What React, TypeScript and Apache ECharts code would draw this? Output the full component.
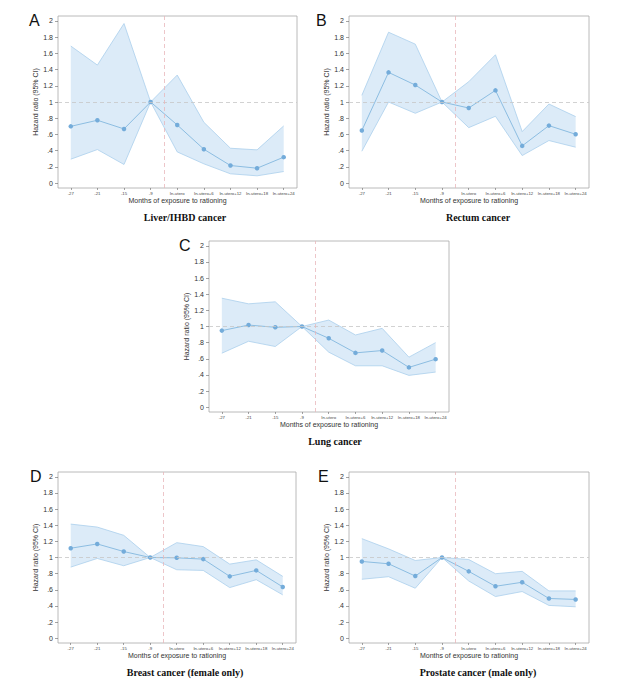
import React, { useEffect, useRef } from 'react';
import * as echarts from 'echarts';

const CATEGORIES = ['-27', '-21', '-15', '-9', 'In-utero', 'In-utero+6', 'In-utero+12', 'In-utero+18', 'In-utero+24'];
const Y_TICKS = [0, 0.2, 0.4, 0.6, 0.8, 1, 1.2, 1.4, 1.6, 1.8, 2];
const X_TICKS = [0, 1, 2, 3, 4, 5, 6, 7, 8];

const LIVER_HR = [0.70, 0.775, 0.668, 1, 0.717, 0.418, 0.217, 0.184, 0.32];
const LIVER_LO = [0.295, 0.414, 0.23, 1, 0.385, 0.238, 0.115, 0.09, 0.143];
const LIVER_HI = [1.69, 1.455, 1.967, 1, 1.332, 0.75, 0.43, 0.41, 0.705];

const RECTUM_HR = [0.648, 1.365, 1.209, 1, 0.926, 1.143, 0.459, 0.709, 0.602];
const RECTUM_LO = [0.393, 1.0, 0.861, 1, 0.684, 0.824, 0.34, 0.525, 0.443];
const RECTUM_HI = [1.082, 1.86, 1.713, 1, 1.25, 1.582, 0.635, 0.975, 0.82];

const LUNG_HR = [0.949, 1.018, 0.99, 1, 0.854, 0.673, 0.702, 0.493, 0.595];
const LUNG_LO = [0.669, 0.817, 0.752, 1, 0.682, 0.513, 0.513, 0.394, 0.435];
const LUNG_HI = [1.351, 1.281, 1.306, 1, 1.08, 0.895, 0.977, 0.62, 0.80];

const BREAST_HR = [1.115, 1.168, 1.074, 1, 0.996, 0.98, 0.766, 0.84, 0.635];
const BREAST_LO = [0.881, 0.988, 0.898, 1, 0.848, 0.84, 0.627, 0.725, 0.537];
const BREAST_HI = [1.414, 1.377, 1.275, 1, 1.184, 1.135, 0.918, 0.971, 0.766];

const PROSTATE_HR = [0.951, 0.922, 0.77, 1, 0.828, 0.643, 0.693, 0.492, 0.48];
const PROSTATE_LO = [0.73, 0.762, 0.619, 1, 0.709, 0.516, 0.578, 0.406, 0.389];
const PROSTATE_HI = [1.234, 1.107, 0.963, 1, 0.975, 0.799, 0.828, 0.586, 0.586];

const PANEL_LETTERS = ['A', 'B', 'C', 'D', 'E'];
const PANEL_TITLES = [
  'Liver/IHBD cancer',
  'Rectum cancer',
  'Lung cancer',
  'Breast cancer (female only)',
  'Prostate cancer (male only)',
];
const X_NAME = 'Months of exposure to rationing';
const Y_NAME = 'Hazard ratio (95% CI)';

const PANEL_DATA = [
  { hr: LIVER_HR, lo: LIVER_LO, hi: LIVER_HI },
  { hr: RECTUM_HR, lo: RECTUM_LO, hi: RECTUM_HI },
  { hr: LUNG_HR, lo: LUNG_LO, hi: LUNG_HI },
  { hr: BREAST_HR, lo: BREAST_LO, hi: BREAST_HI },
  { hr: PROSTATE_HR, lo: PROSTATE_LO, hi: PROSTATE_HI },
];

// layout (positions only)
const GRIDS = [
  { left: 58, top: 16, width: 239, height: 172 },
  { left: 349, top: 16, width: 240, height: 172 },
  { left: 209, top: 241, width: 240, height: 171 },
  { left: 58, top: 472, width: 238, height: 171 },
  { left: 349, top: 472, width: 240, height: 171 },
];
const LETTER_POS = [
  { x: 29, y: 28.5 },
  { x: 316, y: 28.5 },
  { x: 179, y: 253.5 },
  { x: 30, y: 484.5 },
  { x: 318, y: 484.5 },
];
const TITLE_POS = [
  { x: 185, y: 217 },
  { x: 478, y: 217 },
  { x: 335, y: 441 },
  { x: 185, y: 672 },
  { x: 478, y: 672 },
];

const SANS = '"Liberation Sans", Arial, sans-serif';
const SERIF = '"Liberation Serif", "Times New Roman", serif';

const fmtY = (v: number) => {
  if (Math.abs(v) < 1e-9) return '0';
  let s = v.toFixed(1);
  if (s.endsWith('.0')) s = s.slice(0, -2);
  if (s.startsWith('0.')) s = s.slice(1);
  return s;
};

function buildOption() {
  const grid: any[] = [];
  const xAxis: any[] = [];
  const yAxis: any[] = [];
  const series: any[] = [];
  const graphic: any[] = [];

  PANEL_DATA.forEach((p, k) => {
    grid.push({
      ...GRIDS[k],
      show: true,
      borderColor: '#a8a8a8',
      borderWidth: 0.8,
      backgroundColor: 'transparent',
      containLabel: false,
    });
    xAxis.push({
      type: 'value',
      gridIndex: k,
      position: 'bottom',
      min: -0.48,
      max: 8.5,
      axisLine: { show: false, onZero: false },
      splitLine: { show: false },
      axisTick: {
        show: true,
        customValues: X_TICKS,
        length: 2,
        lineStyle: { color: '#666', width: 0.6 },
      },
      axisLabel: {
        customValues: X_TICKS,
        formatter: (v: number) => CATEGORIES[Math.round(v)],
        fontSize: 4.3,
        color: '#444',
        margin: 3,
        fontFamily: SANS,
      },
      name: X_NAME,
      nameLocation: 'middle',
      nameGap: 9,
      nameTextStyle: { fontSize: 7, color: '#333', fontFamily: SANS },
    });
    yAxis.push({
      type: 'value',
      gridIndex: k,
      position: 'left',
      min: -0.06,
      max: 2.06,
      axisLine: { show: false, onZero: false },
      splitLine: { show: false },
      axisTick: {
        show: true,
        customValues: Y_TICKS,
        length: 3,
        lineStyle: { color: '#666', width: 0.6 },
      },
      axisLabel: {
        customValues: Y_TICKS,
        formatter: fmtY,
        fontSize: 7,
        color: '#333',
        margin: 5,
        fontFamily: SANS,
      },
      name: Y_NAME,
      nameLocation: 'middle',
      nameGap: 19,
      nameTextStyle: { fontSize: 7, color: '#333', fontFamily: SANS },
    });

    series.push({
      type: 'custom',
      coordinateSystem: 'cartesian2d',
      xAxisIndex: k,
      yAxisIndex: k,
      silent: true,
      z: 1,
      data: p.hr.map((v, i) => [i, v]),
      encode: { x: 0, y: 1 },
      renderItem: (params: any, api: any) => {
        if (params.dataIndex !== 0) return null;
        const up = p.hi.map((v, i) => api.coord([i, v]));
        const dn = p.lo.map((v, i) => api.coord([i, v]));
        return {
          type: 'group',
          children: [
            {
              type: 'polygon',
              shape: { points: [...up, ...dn.slice().reverse()] },
              style: { fill: '#dcebf8', stroke: 'none' },
            },
            {
              type: 'polyline',
              shape: { points: up },
              style: { stroke: '#abcfec', lineWidth: 0.8, fill: 'none' },
            },
            {
              type: 'polyline',
              shape: { points: dn },
              style: { stroke: '#abcfec', lineWidth: 0.8, fill: 'none' },
            },
          ],
        };
      },
    });

    series.push({
      type: 'line',
      xAxisIndex: k,
      yAxisIndex: k,
      z: 3,
      data: p.hr.map((v, i) => [i, v]),
      symbol: 'circle',
      symbolSize: 4.5,
      showSymbol: true,
      lineStyle: { color: '#8cbde1', width: 1 },
      itemStyle: { color: '#74acda' },
      markLine: {
        silent: true,
        symbol: 'none',
        label: { show: false },
        data: [
          { yAxis: 1, lineStyle: { color: '#c6c6c6', type: [4, 3], width: 0.8 } },
          { xAxis: 3.5, lineStyle: { color: '#e8b7bb', type: [4, 3], width: 0.8 } },
        ],
      },
    });

    graphic.push({
      type: 'text',
      x: LETTER_POS[k].x,
      y: LETTER_POS[k].y,
      style: {
        text: PANEL_LETTERS[k],
        font: `16px ${SANS}`,
        fill: '#111',
        textVerticalAlign: 'bottom',
        verticalAlign: 'bottom',
      },
    });
    graphic.push({
      type: 'text',
      x: TITLE_POS[k].x,
      y: TITLE_POS[k].y,
      style: {
        text: PANEL_TITLES[k],
        font: `bold 10px ${SERIF}`,
        fill: '#111',
        align: 'center',
        verticalAlign: 'middle',
      },
    });
  });

  return {
    animation: false,
    backgroundColor: '#ffffff',
    grid,
    xAxis,
    yAxis,
    series,
    graphic,
  };
}

export default function App() {
  const ref = useRef<HTMLDivElement>(null);
  useEffect(() => {
    if (!ref.current) return;
    const chart = echarts.init(ref.current, undefined, { renderer: 'svg' });
    chart.setOption(buildOption() as any);
    return () => chart.dispose();
  }, []);
  return (
    <div
      ref={ref}
      style={{ position: 'fixed', left: 0, top: 0, width: 642, height: 689, background: '#fff' }}
    />
  );
}
